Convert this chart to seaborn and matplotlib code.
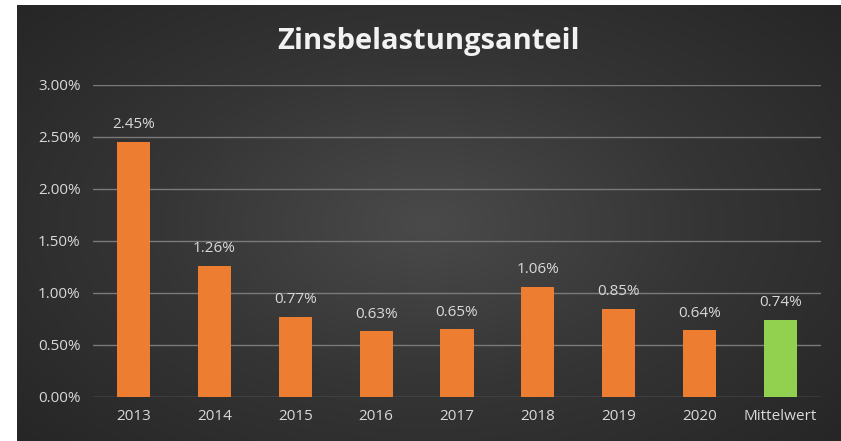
import numpy as np
import pandas as pd
import matplotlib
matplotlib.use('Agg')
import matplotlib.pyplot as plt
import seaborn as sns

# data (percent)
categories = ['2013', '2014', '2015', '2016', '2017', '2018', '2019', '2020', 'Mittelwert']
values = [2.45, 1.26, 0.77, 0.63, 0.65, 1.06, 0.85, 0.64, 0.74]
bar_colors = ['#ED7D31'] * 8 + ['#92D050']
yticks = [0.0, 0.5, 1.0, 1.5, 2.0, 2.5, 3.0]

df = pd.DataFrame({'jahr': categories, 'anteil': values})

sns.set_style('white')
plt.rcParams['font.family'] = ['Open Sans', 'DejaVu Sans']

text_col = '#d9d9d9'

fig = plt.figure(figsize=(8.41, 4.41), dpi=100)
fig.patch.set_facecolor('white')

# dark radial-gradient background of the chart area
bg = fig.add_axes([17 / 841, 0, 824 / 841, 436 / 441])
yy, xx = np.mgrid[-1:1:300j, -1:1:600j]
r = np.sqrt(xx ** 2 + (yy * 0.9) ** 2)
bg.imshow(r, cmap=matplotlib.colors.LinearSegmentedColormap.from_list(
    'bg', ['#4a4a4a', '#353535', '#262626']), vmin=0, vmax=1.35,
    aspect='auto', interpolation='bilinear')
bg.set_axis_off()

ax = fig.add_axes([93 / 841, 44 / 441, 728 / 841, 312 / 441])
ax.patch.set_alpha(0)

sns.barplot(data=df, x='jahr', y='anteil', hue='jahr', palette=bar_colors,
            legend=False, width=0.41, ax=ax, saturation=1, linewidth=0)

for i, v in enumerate(values):
    ax.annotate(f'{v:.2f}%', (i, v), xytext=(0, 7), textcoords='offset points',
                ha='center', va='bottom', color=text_col, fontsize=11)

ax.set_ylim(0, 3.0)
ax.set_xlim(-0.5, len(categories) - 0.5)
ax.set_yticks(yticks)
ax.set_yticklabels([f'{t:.2f}%' for t in yticks])
ax.yaxis.grid(True, color='#7a7a7a', linewidth=1)
ax.set_axisbelow(True)
for s in ax.spines.values():
    s.set_visible(False)
ax.tick_params(axis='both', length=0, colors=text_col, labelsize=11)
ax.tick_params(axis='y', pad=9)
ax.tick_params(axis='x', pad=9)
ax.set_xlabel('')
ax.set_ylabel('')

fig.text(429 / 841, 1 - 42 / 441, 'Zinsbelastungsanteil', ha='center', va='center',
         color='#f2f2f2', fontsize=21, fontweight='bold')

fig.savefig('out.png', dpi=100)
